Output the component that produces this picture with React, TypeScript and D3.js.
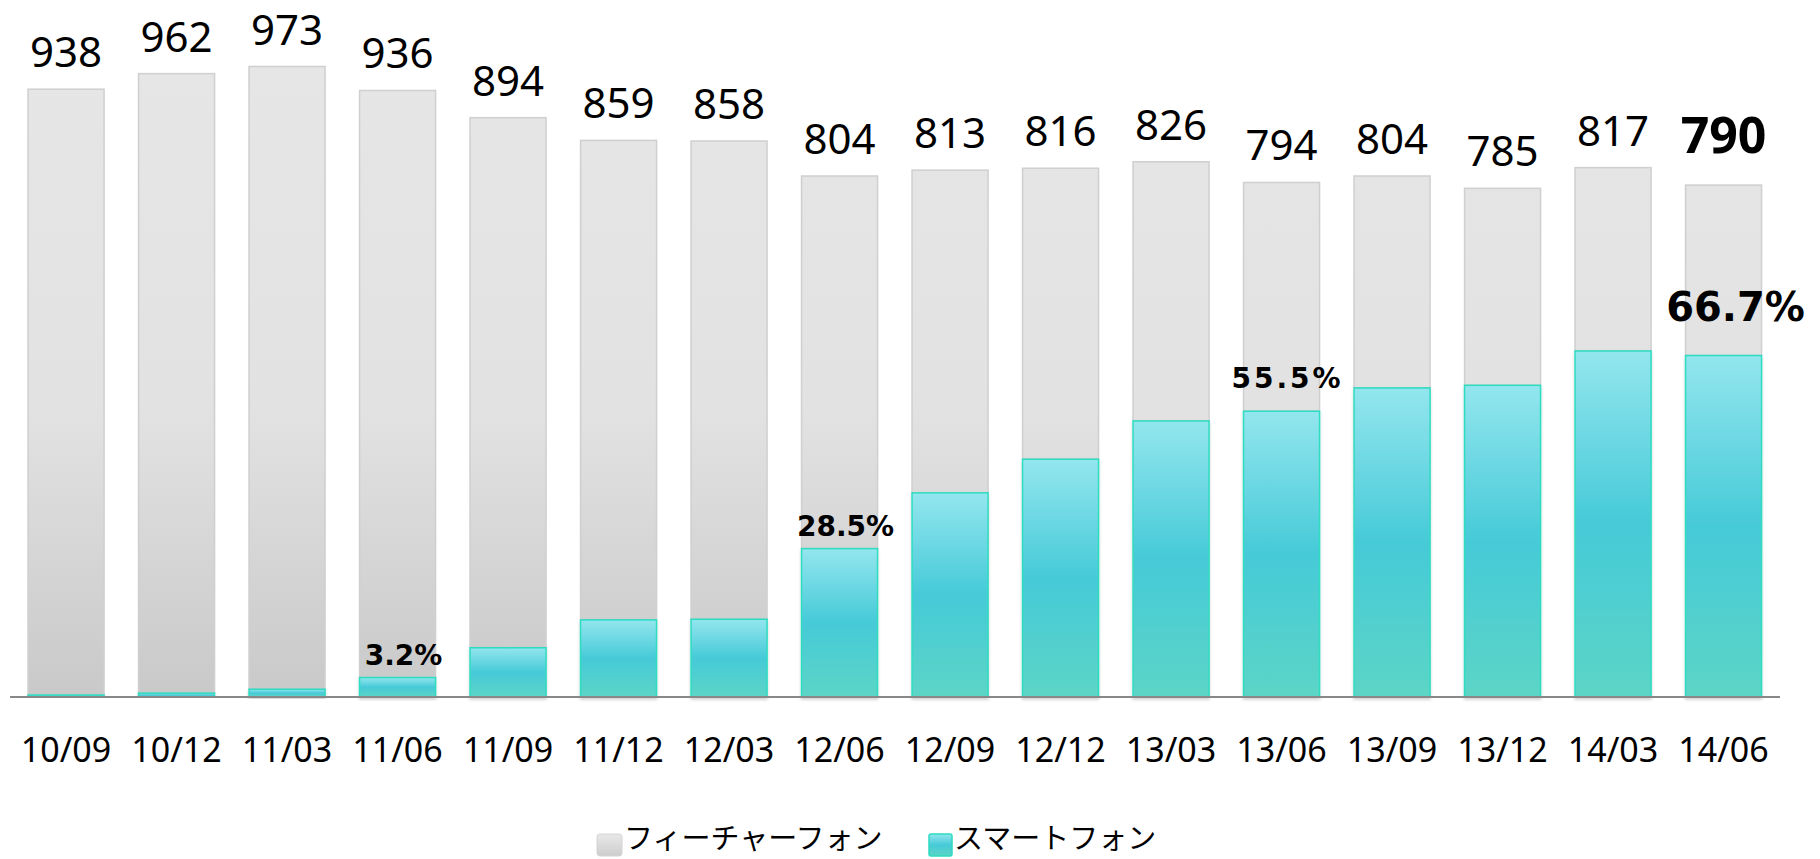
import React from 'react'
import * as d3 from 'd3'

const categories = ['10/09', '10/12', '11/03', '11/06', '11/09', '11/12', '12/03', '12/06', '12/09', '12/12', '13/03', '13/06', '13/09', '13/12', '14/03', '14/06']
// 万台
const smartphone = [3, 6, 12, 30, 76, 119, 120, 229, 315, 367, 426, 441, 477, 481, 534, 527]
const featurephone = [935, 956, 961, 906, 818, 740, 738, 575, 498, 449, 400, 353, 327, 304, 283, 263]
const labelledShares = ['11/06', '12/06', '13/06', '14/06']
const seriesNames = ['フィーチャーフォン', 'スマートフォン']

const W = 1820
const H = 859
const baseY = 697
const latin = "'Noto Sans', 'Noto Sans CJK JP', sans-serif"
const verdanaish = "'DejaVu Sans', Verdana, sans-serif"

// extra lift for a few share labels, the rest sit just over the teal bar
const shareLift: Record<string, number> = { '13/06': 10, '14/06': 22 }

const App: React.FC = () => {
  const x = d3
    .scaleBand<string>()
    .domain(categories)
    .range([10.8, 1778.8])
    .paddingInner(0.312)
    .paddingOuter(0.156)
  const y = d3.scaleLinear().domain([0, 1000]).range([baseY, baseY - 648])
  const bw = x.bandwidth()
  const last = categories.length - 1

  const rows = categories.map((c, i) => ({
    c,
    smart: smartphone[i],
    feat: featurephone[i],
    total: smartphone[i] + featurephone[i],
  }))

  return (
    <svg
      width={W}
      height={H}
      style={{ position: 'absolute', left: 0, top: 0, background: '#fff' }}
    >
      <defs>
        <linearGradient id="grayG" gradientUnits="userSpaceOnUse" x1="0" y1="60" x2="0" y2={baseY}>
          <stop offset="0" stopColor="#e6e6e6" />
          <stop offset="0.55" stopColor="#e2e2e2" />
          <stop offset="1" stopColor="#c9c9c9" />
        </linearGradient>
        <linearGradient id="tealG" x1="0" y1="0" x2="0" y2="1">
          <stop offset="0" stopColor="#93e6ee" />
          <stop offset="0.5" stopColor="#46cad8" />
          <stop offset="1" stopColor="#5cd5c6" />
        </linearGradient>
        <linearGradient id="grayL" x1="0" y1="0" x2="0" y2="1">
          <stop offset="0" stopColor="#e8e8e8" />
          <stop offset="1" stopColor="#cdcdcd" />
        </linearGradient>
        <filter id="sh" x="-10%" y="-10%" width="120%" height="130%">
          <feDropShadow dx="0" dy="2" stdDeviation="1.5" floodColor="#000" floodOpacity="0.18" />
        </filter>
      </defs>

      {rows.map((d) => (
        <g key={d.c}>
          <rect
            x={x(d.c)}
            y={y(d.total)}
            width={bw}
            height={y(d.smart) - y(d.total)}
            fill="url(#grayG)"
            stroke="#cfcfcf"
            strokeWidth={1.5}
          />
          <rect
            x={x(d.c)}
            y={y(d.smart)}
            width={bw}
            height={baseY - y(d.smart)}
            fill="url(#tealG)"
            stroke="#2ddcc0"
            strokeWidth={1.5}
            filter="url(#sh)"
          />
        </g>
      ))}

      <line x1={10} x2={1780} y1={baseY} y2={baseY} stroke="#888" strokeWidth={2} />

      {rows.map((d, i) => (
        <text
          key={'t' + d.c}
          x={x(d.c)! + bw / 2}
          y={y(d.total) - (i === last ? 32 : 22)}
          textAnchor="middle"
          fontFamily={latin}
          fontSize={i === last ? 50 : 42}
          fontWeight={i === last ? 700 : 400}
          fill="#000"
        >
          {d.total}
        </text>
      ))}

      {rows
        .filter((d) => labelledShares.includes(d.c))
        .map((d) => {
          const big = d.c === categories[last]
          return (
            <text
              key={'p' + d.c}
              x={x(d.c)! + bw / 2 + (big ? 12 : 6)}
              y={y(d.smart) - 13 - (shareLift[d.c] ?? 0)}
              textAnchor="middle"
              fontFamily={verdanaish}
              fontWeight={700}
              fontSize={big ? 40 : 28}
              letterSpacing={d.c === '13/06' ? 3 : 0}
              fill="#000"
            >
              {((d.smart / d.total) * 100).toFixed(1)}%
            </text>
          )
        })}

      {categories.map((c) => (
        <text
          key={'x' + c}
          x={x(c)! + bw / 2}
          y={762}
          textAnchor="middle"
          fontFamily={latin}
          fontSize={34}
          fill="#000"
        >
          {c}
        </text>
      ))}

      <g fontFamily="'Noto Sans CJK JP', sans-serif" fontSize={29} fill="#000">
        <rect x={597} y={834} width={25} height={22} rx={3} fill="url(#grayL)" stroke="#d4d4d4" />
        <text x={624} y={849}>{seriesNames[0]}</text>
        <rect x={929} y={834} width={23} height={22} rx={2} fill="url(#tealG)" stroke="#2ddcc0" strokeWidth={1.5} />
        <text x={954} y={849}>{seriesNames[1]}</text>
      </g>
    </svg>
  )
}

export default App
